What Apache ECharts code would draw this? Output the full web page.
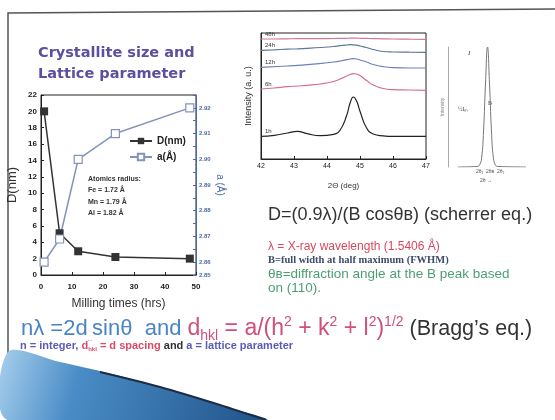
<!DOCTYPE html>
<html>
<head>
<meta charset="utf-8">
<script src="https://cdn.jsdelivr.net/npm/echarts@6/dist/echarts.min.js"></script>
<style>
  html, body { margin: 0; padding: 0; background: #fff; }
  #main { width: 555px; height: 420px; }
</style>
</head>
<body>
<div id="main"></div>
<script>
// crystallite size / lattice parameter vs milling time
const millingHours = [1, 6, 12, 24, 48];
const crystalliteSize = [20, 5.1, 2.9, 2.2, 2.0];
const latticeParam = [2.860, 2.869, 2.900, 2.910, 2.920];

// XRD patterns around the (110) peak (offset curves, a.u.)
const twoTheta = [42, 42.4, 42.8, 43.1, 43.4, 43.8, 44.2, 44.4, 44.6, 44.7, 44.8, 44.9, 45.0, 45.2, 45.4, 45.7, 46, 46.5, 47];
const int1h  = [22.7, 23.7, 26, 27.7, 25.3, 23.3, 24.7, 29, 44, 56, 62, 57.7, 47.7, 31, 25, 23.2, 22.7, 22.7, 22.7];
const int6h  = [70, 71, 72.3, 73, 73.7, 75, 77.5, 80, 83, 84.5, 85.3, 85, 83.5, 78.5, 74, 70.5, 69.3, 69, 68.7];
const int12h = [91.7, 92.3, 93, 93.7, 94.3, 95.5, 97, 98, 99.3, 100, 100.3, 100, 99, 97, 94.5, 92.3, 91.3, 91, 91];
const int24h = [108.7, 109.2, 109.8, 110.2, 110.7, 111.5, 112.5, 113.3, 114, 114.3, 114.2, 113.8, 113, 111.5, 109.5, 107.5, 107, 106.8, 106.7];
const int48h = [120, 120, 120.2, 120.3, 120.3, 120.4, 120.5, 120.6, 120.7, 120.8, 120.8, 120.8, 120.7, 120.6, 120.4, 120.2, 120, 119.8, 119.7];

// schematic single peak (FWHM sketch)
const peakX = [10, 30, 32, 34, 36, 38, 40, 42, 44, 46, 48, 50, 79];
const peakY = [0, 0.5, 2, 8, 33, 77, 110, 77, 33, 8, 2, 0.5, 0];

const pairs = (xs, ys) => xs.map((x, i) => [x, ys[i]]);

function xrdSeries(name, ys, color) {
  return {
    name: name, type: 'line', xAxisIndex: 1, yAxisIndex: 2,
    data: pairs(twoTheta, ys), smooth: true, symbol: 'none',
    lineStyle: { color: color, width: 1.2 },
    markPoint: {
      symbol: 'circle', symbolSize: 0, silent: true,
      data: [{ coord: [twoTheta[0], ys[0]] }],
      label: { show: true, formatter: name, position: 'right', offset: [-1, -5], fontSize: 6, color: '#333' }
    }
  };
}

const myChart = echarts.init(document.getElementById('main'));
const tickFont = { fontSize: 8, color: '#222', fontWeight: 'bold', fontFamily: 'Liberation Sans' };
const blue = '#4a84c6', pink = '#cf5078';

const option = {
  animation: false,
  backgroundColor: '#fff',
  legend: {
    data: ['D(nm)', 'a(Å)'],
    orient: 'vertical',
    left: 124, top: 131,
    itemWidth: 22, itemHeight: 8, itemGap: 6,
    textStyle: { fontSize: 10, color: '#222', fontWeight: 'bold' }
  },
  grid: [
    { left: 41, top: 95, width: 155, height: 180, show: true, borderColor: '#222', borderWidth: 1 },
    { left: 261, top: 33, width: 165, height: 126, show: true, borderColor: '#222', borderWidth: 1 },
    { left: 448, top: 47, width: 79, height: 120 }
  ],
  xAxis: [
    {
      gridIndex: 0, type: 'value', min: 0, max: 50, interval: 10,
      name: 'Milling times (hrs)', nameLocation: 'middle', nameGap: 23,
      nameTextStyle: { fontSize: 12, color: '#333' },
      axisLine: { lineStyle: { color: '#222' } },
      axisTick: { inside: true, length: 3 },
      axisLabel: tickFont, splitLine: { show: false }
    },
    {
      gridIndex: 1, type: 'value', min: 42, max: 47, interval: 1,
      name: '2Θ (deg)', nameLocation: 'middle', nameGap: 23,
      nameTextStyle: { fontSize: 8, color: '#333' },
      axisLine: { lineStyle: { color: '#222' } },
      axisTick: { inside: true, length: 3 },
      axisLabel: { fontSize: 7, color: '#222', margin: 4 },
      splitLine: { show: false }
    },
    {
      gridIndex: 2, type: 'value', min: 0, max: 80,
      axisLine: { show: false }, axisTick: { show: false },
      axisLabel: { show: false }, splitLine: { show: false }
    }
  ],
  yAxis: [
    {
      gridIndex: 0, type: 'value', min: 0, max: 22, interval: 2,
      name: 'D(nm)', nameLocation: 'middle', nameGap: 22,
      nameTextStyle: { fontSize: 13, color: '#333' },
      axisLine: { show: true, lineStyle: { color: '#222' } },
      axisTick: { show: true, inside: true, length: 3 },
      axisLabel: Object.assign({ margin: 4 }, tickFont),
      splitLine: { show: false }
    },
    {
      gridIndex: 0, type: 'value', position: 'right',
      min: 2.855, max: 2.925, interval: 0.005,
      name: 'a (Å)', nameLocation: 'middle', nameGap: 19, nameRotate: -90,
      nameTextStyle: { fontSize: 10, color: '#4a6aa8' },
      axisLine: { show: true, lineStyle: { color: '#4a6aa8' } },
      axisTick: { show: true, inside: true, length: 3 },
      axisLabel: {
        fontSize: 6, color: '#4a6aa8', fontWeight: 'bold', margin: 3,
        formatter: function (v) {
          if (Math.abs(v - 2.855) < 1e-6) return '2.85';
          return Math.abs(v * 100 - Math.round(v * 100)) < 1e-6 ? v.toFixed(2) : '';
        }
      },
      splitLine: { show: false }
    },
    {
      gridIndex: 1, type: 'value', min: 0, max: 126,
      name: 'Intensity (a. u.)', nameLocation: 'middle', nameGap: 8,
      nameTextStyle: { fontSize: 9, color: '#333' },
      axisLine: { show: true, lineStyle: { color: '#222' } },
      axisTick: { show: false }, axisLabel: { show: false },
      splitLine: { show: false }
    },
    {
      gridIndex: 2, type: 'value', min: 0, max: 110,
      name: 'Intensity', nameLocation: 'middle', nameGap: 3,
      nameTextStyle: { fontSize: 5, color: '#888' },
      axisLine: { show: true, lineStyle: { color: '#aaa' } },
      axisTick: { show: false }, axisLabel: { show: false },
      splitLine: { show: false }
    }
  ],
  series: [
    {
      name: 'D(nm)', type: 'line', xAxisIndex: 0, yAxisIndex: 0,
      data: pairs(millingHours, crystalliteSize),
      symbol: 'rect', symbolSize: 8,
      lineStyle: { color: '#333', width: 1.5 },
      itemStyle: { color: '#333' }
    },
    {
      name: 'a(Å)', type: 'line', xAxisIndex: 0, yAxisIndex: 1,
      data: pairs(millingHours, latticeParam),
      symbol: 'rect', symbolSize: 8,
      lineStyle: { color: '#8394ba', width: 1.5 },
      itemStyle: { color: '#fff', borderColor: '#8394ba', borderWidth: 1.2 }
    },
    xrdSeries('1h', int1h, '#222'),
    xrdSeries('6h', int6h, '#d4708c'),
    xrdSeries('12h', int12h, '#6a82bc'),
    xrdSeries('24h', int24h, '#5d7898'),
    xrdSeries('48h', int48h, '#d47896'),
    {
      name: 'peak', type: 'line', xAxisIndex: 2, yAxisIndex: 3,
      data: pairs(peakX, peakY), smooth: true, symbol: 'none',
      lineStyle: { color: '#777', width: 1 }
    }
  ],
  graphic: [
    // slide frame
    { type: 'polyline', shape: { points: [[8, 420], [8, 13], [555, 9]] }, style: { stroke: '#555', lineWidth: 1.5, fill: null } },
    // blue swoosh bottom left
    {
      type: 'polygon',
      shape: { points: [[8, 352], [60, 362], [120, 376], [180, 393], [230, 408], [266, 420], [8, 420]], smooth: 0.3 },
      style: {
        fill: new echarts.graphic.LinearGradient(0, 0, 1, 1, [
          { offset: 0, color: '#a9d0ee' },
          { offset: 0.3, color: '#4a8cc6' },
          { offset: 1, color: '#1f5288' }
        ])
      }
    },
    { type: 'polyline', shape: { points: [[100, 372], [160, 387], [220, 405], [266, 420]], smooth: 0.3 }, style: { stroke: '#1c2c44', lineWidth: 2, fill: null } },
    // title
    { type: 'text', left: 38, top: 43, style: { text: 'Crystallite size and\nLattice parameter', font: 'bold 14.5px "DejaVu Sans"', fill: '#5e4ea0', lineHeight: 21 } },
    // atomic radii note
    { type: 'text', left: 88, top: 173, style: { text: 'Atomics radius:\nFe = 1.72 Å\nMn = 1.79 Å\nAl = 1.82 Å', font: 'bold 7px "Liberation Sans"', fill: '#333', lineHeight: 11.5 } },
    // peak sketch labels
    { type: 'text', left: 468, top: 50, style: { text: 'I', font: 'italic 7px "Liberation Serif"', fill: '#444' } },
    { type: 'text', left: 458, top: 106, style: { text: '½Iₘ', font: '6px "Liberation Serif"', fill: '#444' } },
    { type: 'text', left: 488, top: 100, style: { text: 'B', font: '6px "Liberation Serif"', fill: '#444' } },
    { type: 'text', left: 476, top: 169, style: { text: '2θ₁  2θʙ  2θ₂', font: '5px "Liberation Sans"', fill: '#555' } },
    { type: 'text', left: 480, top: 178, style: { text: '2θ →', font: '5px "Liberation Sans"', fill: '#555' } },
    // Scherrer
    { type: 'text', left: 268, top: 206, style: { text: 'D=(0.9λ)/(B cosθʙ) (scherrer eq.)', font: '18px "Liberation Sans"', fill: '#333' } },
    { type: 'text', left: 268, top: 241, style: { text: 'λ = X-ray wavelength (1.5406 Å)', font: '12px "Liberation Sans"', fill: '#d8485e' } },
    { type: 'text', left: 268, top: 255, style: { text: 'B=full width at half maximum (FWHM)', font: 'bold 10.5px "Liberation Serif"', fill: '#3e4a6c' } },
    { type: 'text', left: 268, top: 267, style: { text: 'θʙ=diffraction angle at the B peak based\non (110).', font: '13.5px "Liberation Sans"', fill: '#4d9f72', lineHeight: 14 } },
    // Bragg
    {
      type: 'text', left: 21, top: 315,
      style: {
        text: '{b|nλ =2d}{bt|..}{b|sinθ  and }{r|d}{rs|hkl}{r| = a/(h}{rp|2}{r| + k}{rp|2}{r| + l}{rp|2}{r|)}{rp|1/2}{g| (Bragg’s eq.)}',
        rich: {
          b: { fontSize: 22, fontFamily: 'Liberation Sans', fill: blue, lineHeight: 28, verticalAlign: 'middle' },
          bt: { fontSize: 8, fontFamily: 'Liberation Sans', fill: blue, lineHeight: 28, verticalAlign: 'bottom' },
          r: { fontSize: 23, fontFamily: 'Liberation Sans', fill: pink, lineHeight: 28, verticalAlign: 'middle' },
          rs: { fontSize: 14, fontFamily: 'Liberation Sans', fill: pink, lineHeight: 28, verticalAlign: 'bottom' },
          rp: { fontSize: 14, fontFamily: 'Liberation Sans', fill: pink, lineHeight: 28, verticalAlign: 'top' },
          g: { fontSize: 21.5, fontFamily: 'Liberation Sans', fill: '#333', lineHeight: 28, verticalAlign: 'middle' }
        }
      }
    },
    {
      type: 'text', left: 20, top: 340,
      style: {
        text: '{p|n = integer, }{r|d}{rs|hkl}{r| = d spacing }{k|and }{p|a = lattice parameter}',
        rich: {
          p: { fontSize: 11, fontWeight: 'bold', fontFamily: 'Liberation Sans', fill: '#5a5ab8', lineHeight: 14, verticalAlign: 'middle' },
          r: { fontSize: 11, fontWeight: 'bold', fontFamily: 'Liberation Sans', fill: '#d84c68', lineHeight: 14, verticalAlign: 'middle' },
          rs: { fontSize: 6, fontWeight: 'bold', fontFamily: 'Liberation Sans', fill: '#d84c68', lineHeight: 14, verticalAlign: 'bottom' },
          k: { fontSize: 11, fontWeight: 'bold', fontFamily: 'Liberation Sans', fill: '#333', lineHeight: 14, verticalAlign: 'middle' }
        }
      }
    }
  ]
};

myChart.setOption(option, true);
</script>
</body>
</html>
